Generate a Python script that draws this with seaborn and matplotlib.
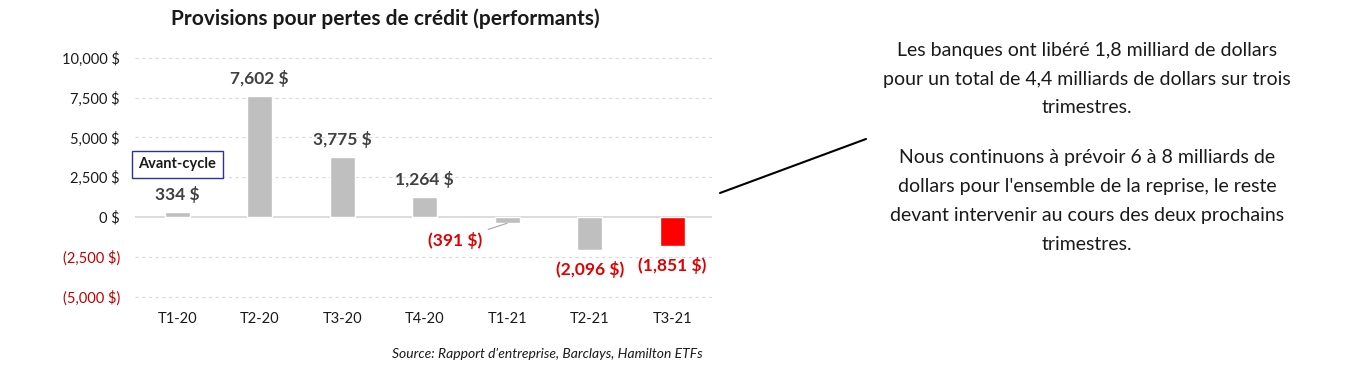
import matplotlib
matplotlib.use("Agg")
import matplotlib.pyplot as plt
import seaborn as sns
import pandas as pd
from matplotlib.lines import Line2D

# données
trimestres = ['T1-20', 'T2-20', 'T3-20', 'T4-20', 'T1-21', 'T2-21', 'T3-21']
provisions = [334, 7602, 3775, 1264, -391, -2096, -1851]
etiquettes = ['334 $', '7,602 $', '3,775 $', '1,264 $', '(391 $)', '(2,096 $)', '(1,851 $)']
couleurs_barres = ['#BFBFBF', '#BFBFBF', '#BFBFBF', '#BFBFBF', '#BFBFBF', '#BFBFBF', '#FF0000']
ticks_y = [-5000, -2500, 0, 2500, 5000, 7500, 10000]
ticks_y_labels = ['(5,000 $)', '(2,500 $)', '0 $', '2,500 $', '5,000 $', '7,500 $', '10,000 $']

titre = "Provisions pour pertes de crédit (performants)"
source = "Source: Rapport d'entreprise, Barclays, Hamilton ETFs"
commentaire_1 = ("Les banques ont libéré 1,8 milliard de dollars\n"
                 "pour un total de 4,4 milliards de dollars sur trois\n"
                 "trimestres.")
commentaire_2 = ("Nous continuons à prévoir 6 à 8 milliards de\n"
                 "dollars pour l'ensemble de la reprise, le reste\n"
                 "devant intervenir au cours des deux prochains\n"
                 "trimestres.")

df = pd.DataFrame({'trimestre': trimestres, 'provision': provisions})

sns.set_style('white')
plt.rcParams['font.family'] = ['Lato', 'DejaVu Sans']

fig = plt.figure(figsize=(13.56, 3.81), dpi=100)
ax = fig.add_axes([0.0996, 0.188, 0.4253, 0.723])

sns.barplot(data=df, x='trimestre', y='provision', hue='trimestre',
            palette=couleurs_barres, legend=False, width=0.30, ax=ax,
            saturation=1)

ax.set_xlim(-0.51, 6.48)
ax.set_ylim(-5800, 11500)

# grille
for v in ticks_y:
    if v == 0:
        ax.axhline(v, color='#D9D9D9', lw=1.3, zorder=0)
    else:
        ax.axhline(v, color='#D9D9D9', lw=0.8, ls=(0, (3, 3)), zorder=0)

for s in ax.spines.values():
    s.set_visible(False)

ax.set_yticks(ticks_y)
ax.set_yticklabels(ticks_y_labels, fontsize=10.5)
for lab, v in zip(ax.get_yticklabels(), ticks_y):
    lab.set_color('#C00000' if v < 0 else '#1A1A1A')
ax.tick_params(axis='y', length=0, pad=11)
ax.tick_params(axis='x', length=0, pad=2, labelsize=10.5, labelcolor='#1A1A1A')
ax.set_xlabel('')
ax.set_ylabel('')

# étiquettes de valeurs
for i, (v, t) in enumerate(zip(provisions, etiquettes)):
    if v >= 0:
        ax.annotate(t, xy=(i, v), xytext=(0, 17), textcoords='offset pixels',
                    ha='center', va='center', fontsize=12.5, fontweight='bold',
                    color='#404040')
    elif i == 4:
        ax.annotate(t, xy=(i, v), xytext=(-52, -17), textcoords='offset pixels',
                    ha='center', va='center', fontsize=12.5, fontweight='bold',
                    color='#E00000',
                    arrowprops=dict(arrowstyle='-', color='#A6A6A6', lw=0.8,
                                    shrinkA=2, shrinkB=0))
    else:
        ax.annotate(t, xy=(i, v), xytext=(0, -19), textcoords='offset pixels',
                    ha='center', va='center', fontsize=12.5, fontweight='bold',
                    color='#E00000')

# encadré avant-cycle
ax.text(0, 3300, 'Avant-cycle', ha='center', va='center', fontsize=10.5,
        fontweight='bold', color='#1A1A1A',
        bbox=dict(boxstyle='square,pad=0.45', fc='white', ec='#2E3192', lw=1))

fig.text(0.2843, 0.950, titre, ha='center', va='center', fontsize=15,
         fontweight='bold', color='#1A1A1A')
fig.text(0.5184, 0.0709, source, ha='right', va='center', fontsize=10,
         style='italic', color='#1A1A1A')

fig.text(0.8016, 1 - 79 / 381, commentaire_1, ha='center', va='center',
         multialignment='center', fontsize=14, linespacing=1.85, color='#1A1A1A')
fig.text(0.8016, 1 - 201 / 381, commentaire_2, ha='center', va='center',
         multialignment='center', fontsize=14, linespacing=1.85, color='#1A1A1A')

fig.add_artist(Line2D([720 / 1356, 866 / 1356], [1 - 193 / 381, 1 - 139 / 381],
                      transform=fig.transFigure, color='black', lw=1.5))

fig.savefig('out.png', dpi=100)
